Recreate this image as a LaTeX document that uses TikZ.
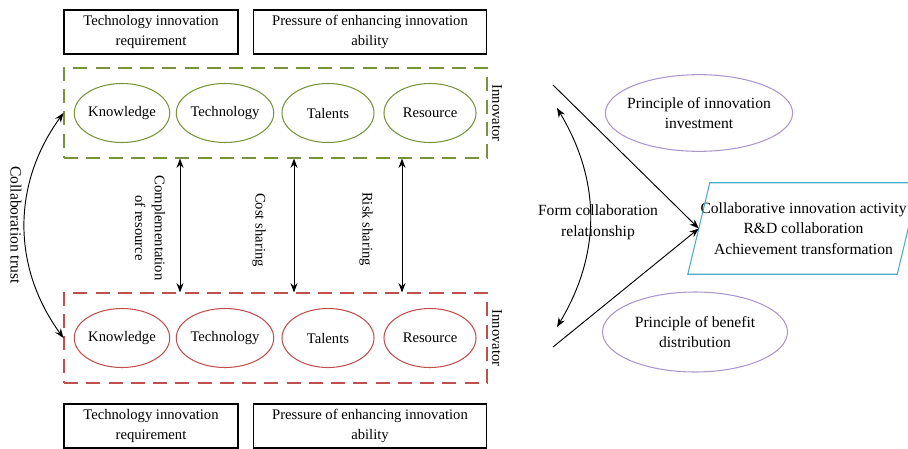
\documentclass[tikz,border=0pt]{standalone}
\usepackage{fontspec}
\setmainfont{Liberation Serif}
\usetikzlibrary{arrows.meta,shapes.geometric,positioning}
\definecolor{innogreen}{RGB}{119,147,60}
\definecolor{innored}{RGB}{192,80,77}
\definecolor{rulepurple}{RGB}{170,150,205}
\definecolor{actcyan}{RGB}{75,172,198}
\tikzset{
  every node/.style={font=\fontsize{12.5}{17}\selectfont},
  big/.style={font=\fontsize{13.3}{17.5}\selectfont},
  >={Stealth[length=8pt,width=6pt]},
  needbox/.style={draw, line width=1pt, minimum width=#1, minimum height=1.32cm, align=center, inner sep=0pt},
  resource/.style={ellipse, draw=#1, line width=0.9pt, minimum width=2.76cm, minimum height=1.77cm, inner sep=0pt},
  innogroup/.style={draw=#1, line width=0.9pt, dash pattern=on 12pt off 7pt, minimum width=12.69cm, minimum height=2.7cm},
  rule/.style={ellipse, draw=rulepurple, line width=0.9pt, minimum width=5.55cm, minimum height=2.3cm, align=center,
    inner xsep=-0.17cm, inner ysep=0pt, big},
  link/.style={line width=0.8pt}
}
\begin{document}
\begin{tikzpicture}[x=0.03cm,y=-0.03cm]
\useasboundingbox (0,0) rectangle (908,448);

% the two innovators
\foreach \n/\c/\y/\b in {1/innogreen/113/32, 2/innored/338/426}{
  \node[needbox=5.22cm] (req\n) at (151,\b) {Technology innovation\\requirement};
  \node[needbox=6.99cm] (pres\n) at (370,\b) {Pressure of enhancing innovation\\ability};
  \node[innogroup=\c] (grp\n) at (275.5,\y) {};
  \node[resource=\c] (know\n) at (122,\y) {Knowledge};
  \node[resource=\c] (tech\n) at (225,\y) {Technology};
  \node[resource=\c] (tal\n) at (328,\y) {Talents};
  \node[resource=\c] (reso\n) at (430,\y) {Resource};
  \node[rotate=-90] (inv\n) at (497,\y) {Innovator};
}

% sharing between the innovators
\draw[link,<->] (180,0 |- grp1.south) -- (180,0 |- grp2.north);
\draw[link,<->] (294,0 |- grp1.south) -- (294,0 |- grp2.north);
\draw[link,<->] (402,0 |- grp1.south) -- (402,0 |- grp2.north);
\node[rotate=-90, align=center] (comp) at (150,228) {Complementation\\of resource};
\node[rotate=-90] (cost) at (259,230) {Cost sharing};
\node[rotate=-90] (risk) at (366,229) {Risk sharing};

\draw[link,<->] (grp1.west) to[bend right=36] (grp2.west);
\node[rotate=-90, big] (trust) at (16,225) {Collaboration trust};

% collaboration
\node[rule] (invest) at (699,113) {Principle of innovation\\investment};
\node[rule, minimum height=2.4cm] (benefit) at (695,332) {Principle of benefit\\distribution};
\node[minimum width=6.27cm, minimum height=2.73cm, align=center, inner sep=0pt, big]
  (act) at (803.5,228.5) {Collaborative innovation activity\\R\&D collaboration\\Achievement transformation};
\draw[actcyan, line width=0.9pt] ([xshift=-0.33cm]act.south west) -- ([xshift=0.33cm]act.north west)
  -- ([xshift=0.33cm]act.north east) -- ([xshift=-0.33cm]act.south east) -- cycle;

\coordinate (from1) at (553,85);
\coordinate (from2) at (553,347);
\coordinate (rel1) at (557,108);
\coordinate (rel2) at (557,327);
\draw[link,->] (from1) -- (act.west);
\draw[link,->] (from2) -- (act.west);
\draw[link,<->] (rel1) to[bend left=31] (rel2);
\node[align=center, big] (form) at (598,222) {Form collaboration\\relationship};
\end{tikzpicture}
\end{document}
